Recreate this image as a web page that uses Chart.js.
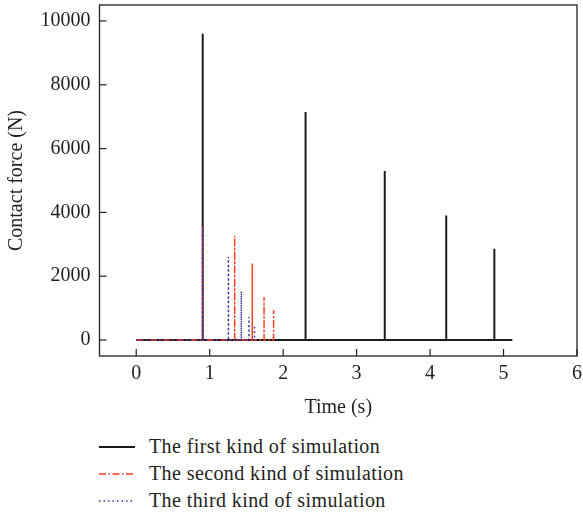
<!DOCTYPE html>
<html>
<head>
<meta charset="utf-8">
<script src="https://cdn.jsdelivr.net/npm/chart.js@4/dist/chart.umd.min.js"></script>
<style>
  html, body { margin: 0; padding: 0; background: #fff; }
  #wrap { position: relative; width: 583px; height: 517px; overflow: hidden; }
  #c { position: absolute; left: 0; top: 0; }
  #legend { position: absolute; left: 97px; top: 433px; font-family: "Liberation Serif", "DejaVu Serif", serif; font-size: 20px; letter-spacing: 0.4px; color: #231f20; }
  .row { display: flex; align-items: center; height: 27px; }
  .row svg { width: 40px; height: 10px; margin-right: 12px; }
</style>
</head>
<body>
<div id="wrap">
  <canvas id="c" width="583" height="420"></canvas>
  <div id="legend"></div>
</div>
<script>
// ---- data ----
const seriesNames = ["The first kind of simulation", "The second kind of simulation", "The third kind of simulation"];
const xTickValues = [0, 1, 2, 3, 4, 5, 6];
const yTickValues = [0, 2000, 4000, 6000, 8000, 10000];

// first kind (black): baseline 0 .. end, spikes
const firstStart = 0;
const firstEnd = 5.12;
const firstSpikeTimes = [0.905, 2.305, 3.383, 4.22, 4.875];
const firstSpikePeaks = [9600, 7150, 5300, 3900, 2860];

// second kind (red dash-dot)
const secondStart = 0;
const secondEnd = 1.87;
const secondSpikeTimes = [0.905, 1.34, 1.58, 1.74, 1.87];
const secondSpikePeaks = [3550, 3270, 2400, 1340, 930];

// third kind (blue dotted)
const thirdStart = 0;
const thirdEnd = 1.62;
const thirdSpikeTimes = [0.905, 1.255, 1.43, 1.535, 1.61];
const thirdSpikePeaks = [3550, 2600, 1530, 720, 460];

function buildSeries(start, end, times, peaks) {
  const pts = [{ x: start, y: 0 }];
  times.forEach((t, i) => {
    pts.push({ x: t, y: 0 });
    pts.push({ x: t, y: peaks[i] });
    pts.push({ x: t, y: 0 });
  });
  if (end > times[times.length - 1]) pts.push({ x: end, y: 0 });
  return pts;
}

const colors = ["#1a1a1a", "#ff3b1f", "#3b2f9e"];
const dashes = [[], [7, 2.5, 1.5, 2.5], [1.5, 3]];
const widths = [2, 1.5, 1.5];
const drawOrder = [3, 2, 1];

const textColor = "#231f20";
const fontFamily = '"Liberation Serif", "DejaVu Serif", serif';
const fontSize = 20;

const frame = {
  id: "frame",
  afterDraw(chart) {
    const { ctx, chartArea: a, scales } = chart;
    ctx.save();
    ctx.strokeStyle = "#231f20";
    ctx.lineWidth = 1.3;
    ctx.setLineDash([]);
    ctx.strokeRect(a.left, a.top, a.right - a.left, a.bottom - a.top);
    ctx.lineWidth = 1.2;
    scales.x.ticks.forEach(t => {
      const px = scales.x.getPixelForValue(t.value);
      ctx.beginPath(); ctx.moveTo(px, a.bottom); ctx.lineTo(px, a.bottom - 7); ctx.stroke();
    });
    scales.y.ticks.forEach(t => {
      const py = scales.y.getPixelForValue(t.value);
      ctx.beginPath(); ctx.moveTo(a.left, py); ctx.lineTo(a.left + 7, py); ctx.stroke();
    });
    ctx.restore();
  }
};

const chart = new Chart(document.getElementById("c"), {
  type: "scatter",
  data: {
    datasets: [
      { label: seriesNames[0], data: buildSeries(firstStart, firstEnd, firstSpikeTimes, firstSpikePeaks) },
      { label: seriesNames[1], data: buildSeries(secondStart, secondEnd, secondSpikeTimes, secondSpikePeaks) },
      { label: seriesNames[2], data: buildSeries(thirdStart, thirdEnd, thirdSpikeTimes, thirdSpikePeaks) }
    ].map((d, i) => Object.assign(d, {
      showLine: true,
      borderColor: colors[i],
      backgroundColor: colors[i],
      borderDash: dashes[i],
      borderWidth: widths[i],
      pointRadius: 0,
      tension: 0,
      order: drawOrder[i]
    }))
  },
  options: {
    responsive: false,
    animation: false,
    layout: { padding: { left: 0, right: 6, top: 5, bottom: 0 } },
    plugins: { legend: { display: false }, tooltip: { enabled: false } },
    scales: {
      x: {
        type: "linear",
        min: -0.5, max: 6,
        afterBuildTicks: s => { s.ticks = xTickValues.map(v => ({ value: v })); },
        afterFit: s => { s.height = 64; s.paddingLeft = 0; s.paddingRight = 0; },
        grid: { display: false, drawTicks: false },
        border: { display: false },
        ticks: { color: textColor, font: { family: fontFamily, size: fontSize }, padding: 6, maxRotation: 0, callback: v => String(v) },
        title: { display: true, text: "Time (s)", color: textColor, font: { family: fontFamily, size: fontSize }, padding: { top: 4, bottom: 0 } }
      },
      y: {
        type: "linear",
        min: -500, max: 10500,
        afterBuildTicks: s => { s.ticks = yTickValues.map(v => ({ value: v })); },
        afterFit: s => { s.width = 99.5; s.paddingTop = 0; s.paddingBottom = 0; },
        grid: { display: false, drawTicks: false },
        border: { display: false },
        ticks: { color: textColor, font: { family: fontFamily, size: fontSize }, padding: 9, callback: v => String(v) },
        title: { display: true, text: "Contact force (N)", color: textColor, font: { family: fontFamily, size: fontSize }, padding: { top: 5, bottom: 0 } }
      }
    }
  },
  plugins: [frame]
});

// legend built from the same series definitions
const legend = document.getElementById("legend");
seriesNames.forEach((name, i) => {
  const row = document.createElement("div");
  row.className = "row";
  const svgNS = "http://www.w3.org/2000/svg";
  const svg = document.createElementNS(svgNS, "svg");
  svg.setAttribute("viewBox", "0 0 40 10");
  const ln = document.createElementNS(svgNS, "line");
  ln.setAttribute("x1", "2"); ln.setAttribute("x2", "38");
  ln.setAttribute("y1", "5"); ln.setAttribute("y2", "5");
  ln.setAttribute("stroke", colors[i]);
  ln.setAttribute("stroke-width", widths[i]);
  if (dashes[i].length) ln.setAttribute("stroke-dasharray", dashes[i].join(" "));
  svg.appendChild(ln);
  const span = document.createElement("span");
  span.textContent = name;
  row.appendChild(svg);
  row.appendChild(span);
  legend.appendChild(row);
});
</script>
</body>
</html>
